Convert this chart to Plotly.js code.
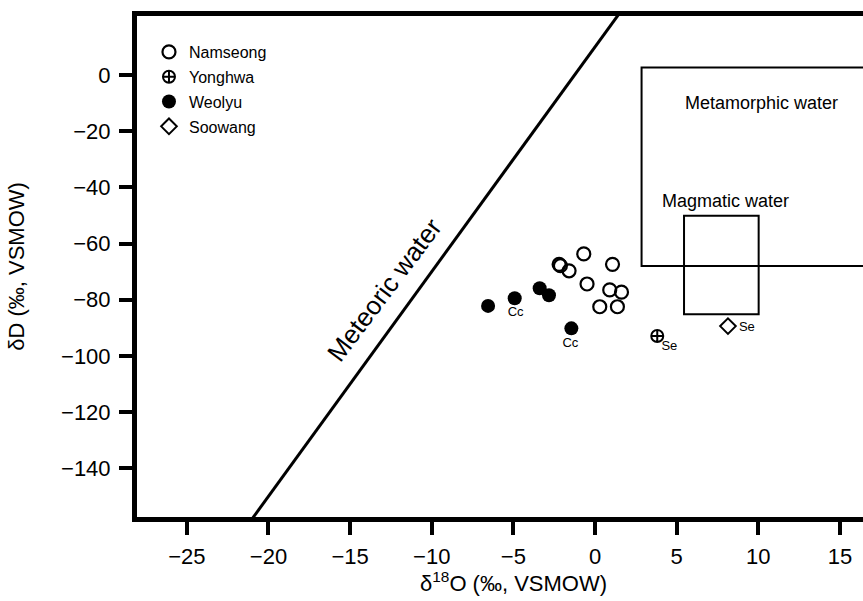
<!DOCTYPE html>
<html>
<head>
<meta charset="utf-8">
<script src="https://cdn.plot.ly/plotly-3.0.1.min.js"></script>
<style>html,body{margin:0;padding:0;background:#fff;overflow:hidden}#chart{width:863px;height:601px}</style>
</head>
<body>
<div id="chart"></div>
<script>
// ---- data ----
const namseongX = [-0.69, -2.20, -2.12, -1.59, 1.07, -0.49, 0.90, 1.62, 0.29, 1.37];
const namseongY = [-63.7, -67.4, -67.9, -69.7, -67.4, -74.4, -76.5, -77.3, -82.5, -82.5];
const yonghwaX = [3.81];
const yonghwaY = [-92.9];
const weolyuX = [-6.55, -4.92, -3.39, -2.82, -1.45];
const weolyuY = [-82.2, -79.5, -75.9, -78.4, -90.2];
const soowangX = [8.14];
const soowangY = [-89.4];

// sample labels (mineral)
const labelText = ["Cc", "Cc", "Se", "Se"];
const labelX = [-4.86, -1.51, 4.55, 9.3];
const labelY = [-84.6, -95.7, -96.8, -90.0];

// meteoric water line (δD = 8 δ18O + 10), end points
const meteoricX = [-21.5, 1.6];
const meteoricY = [-162, 22.8];

// fields
const metamorphicX = [2.85, 30];
const metamorphicY = [-68, 2.7];
const magmaticX = [5.45, 10.02];
const magmaticY = [-85.2, -50.1];

const xTicks = [-25, -20, -15, -10, -5, 0, 5, 10, 15];
const yTicks = [0, -20, -40, -60, -80, -100, -120, -140];

const FONT = "Liberation Sans, Arial, Helvetica, sans-serif";

const traces = [
  {x: meteoricX, y: meteoricY, mode: "lines", line: {color: "#000", width: 3}, showlegend: false, hoverinfo: "skip"},
  {x: namseongX, y: namseongY, mode: "markers", name: "Namseong", legendgroup: "a",
   marker: {symbol: "circle-open", size: 13, color: "#000", line: {width: 2.2, color: "#000"}}},
  {x: yonghwaX, y: yonghwaY, mode: "markers", name: "Yonghwa", legendgroup: "b",
   marker: {symbol: "circle-cross-open", size: 12, color: "#000", line: {width: 2, color: "#000"}}},
  {x: weolyuX, y: weolyuY, mode: "markers", name: "Weolyu", legendgroup: "c",
   marker: {symbol: "circle", size: 14, color: "#000", line: {width: 0}}},
  {x: soowangX, y: soowangY, mode: "markers", name: "Soowang", legendgroup: "d",
   marker: {symbol: "diamond-open", size: 12, color: "#000", line: {width: 2, color: "#000"}}},
  {x: labelX, y: labelY, mode: "text", text: labelText, textfont: {family: FONT, size: 13, color: "#000"},
   showlegend: false, hoverinfo: "skip", cliponaxis: false}
];

const layout = {
  width: 863, height: 601,
  margin: {l: 137, r: 0, t: 16, b: 84, pad: 0},
  paper_bgcolor: "#fff", plot_bgcolor: "#fff",
  font: {family: FONT, color: "#000", size: 22},
  showlegend: true,
  legend: {x: 0.0165, y: 0.962, xanchor: "left", yanchor: "top", bgcolor: "rgba(0,0,0,0)",
           font: {family: FONT, size: 16, color: "#000"}, tracegroupgap: 1},
  xaxis: {range: [-28.05, 16.41], tickvals: xTicks, showgrid: false, zeroline: false,
          showline: true, linewidth: 5, linecolor: "#000", mirror: true,
          ticks: "outside", ticklen: 13, tickwidth: 4, tickcolor: "#000", ticklabelstandoff: 3,
          tickfont: {family: FONT, size: 22, color: "#000"}},
  yaxis: {range: [-157.35, 21.0], tickvals: yTicks, showgrid: false, zeroline: false,
          showline: true, linewidth: 5, linecolor: "#000",
          ticks: "outside", ticklen: 13, tickwidth: 4, tickcolor: "#000", ticklabelstandoff: 4,
          tickfont: {family: FONT, size: 22, color: "#000"},
          title: {text: "δD (‰, VSMOW)", font: {family: FONT, size: 22, color: "#000"}, standoff: 32}},
  shapes: [
    {type: "rect", xref: "x", yref: "y", x0: metamorphicX[0], x1: metamorphicX[1], y0: metamorphicY[0], y1: metamorphicY[1],
     line: {color: "#000", width: 2}},
    {type: "rect", xref: "x", yref: "y", x0: magmaticX[0], x1: magmaticX[1], y0: magmaticY[0], y1: magmaticY[1],
     line: {color: "#000", width: 2}}
  ],
  annotations: [
    {xref: "paper", yref: "paper", x: 0.519, y: -0.13, xanchor: "center", yanchor: "middle", showarrow: false,
     text: "δ<sup>18</sup>O (‰, VSMOW)", font: {family: FONT, size: 22, color: "#000"}},
    {xref: "x", yref: "y", x: 10.2, y: -10, showarrow: false, text: "Metamorphic water",
     font: {family: FONT, size: 18, color: "#000"}},
    {xref: "x", yref: "y", x: 8.0, y: -44.7, showarrow: false, text: "Magmatic water",
     font: {family: FONT, size: 18, color: "#000"}},
    {xref: "x", yref: "y", x: -12.9, y: -76.5, showarrow: false, text: "Meteoric water", textangle: -53,
     font: {family: FONT, size: 26, color: "#000"}}
  ]
};

Plotly.newPlot("chart", traces, layout, {staticPlot: true, displayModeBar: false});
</script>
</body>
</html>
